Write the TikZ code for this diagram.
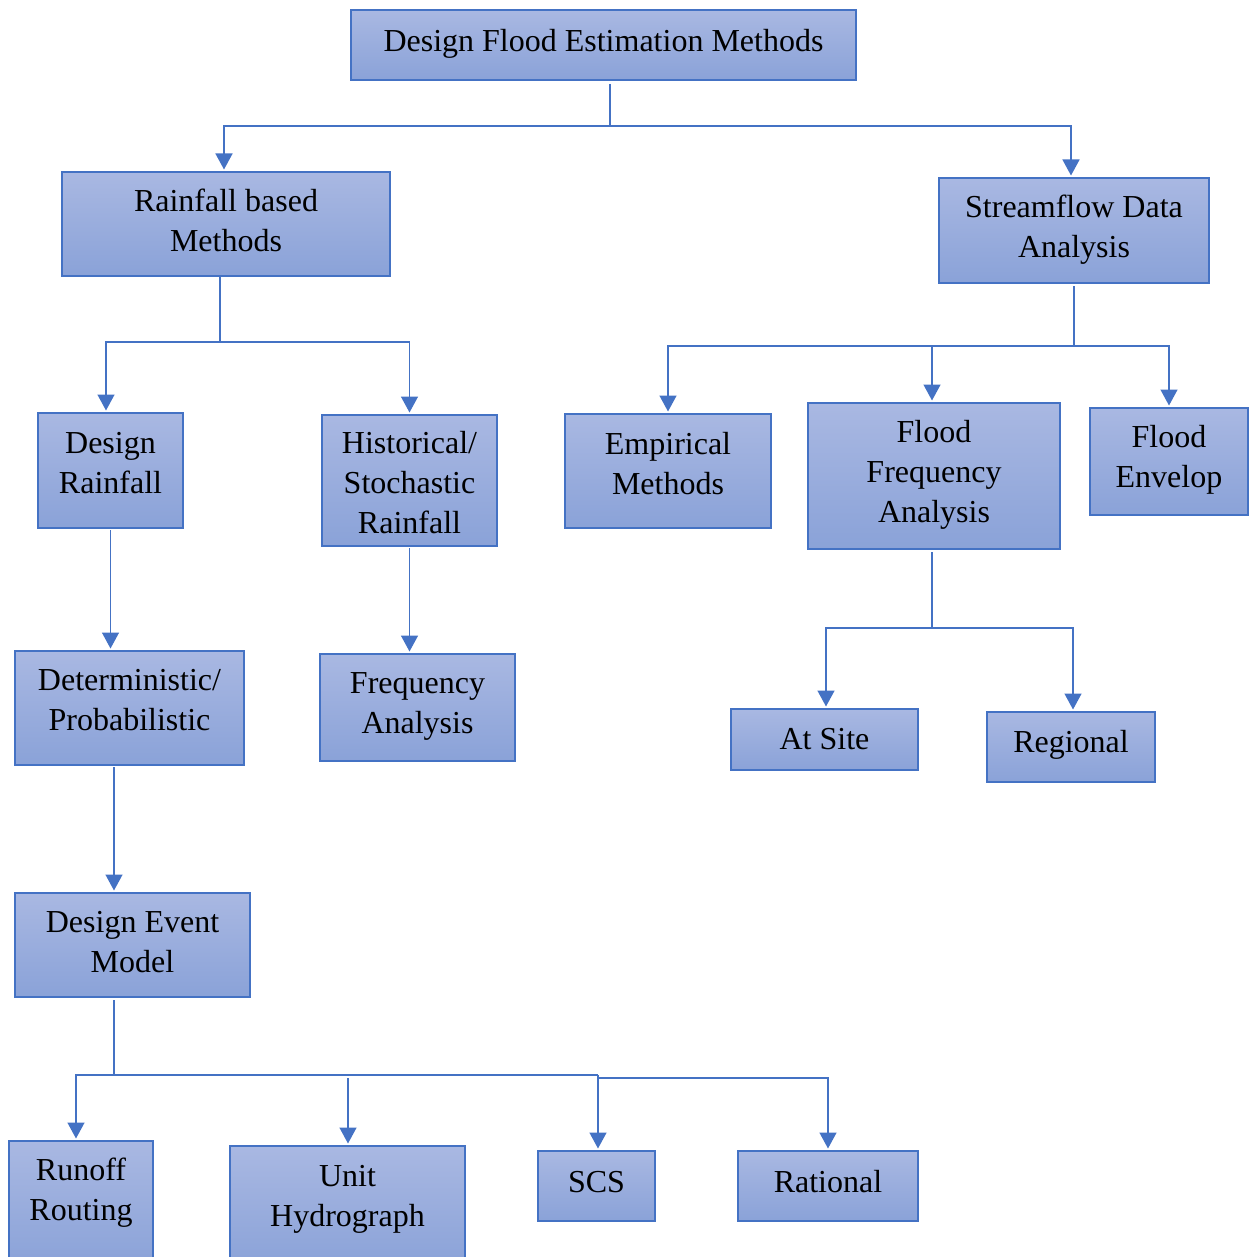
\documentclass[tikz,border=0pt]{standalone}
\usepackage{fontspec}
\setmainfont{Liberation Serif}
\usetikzlibrary{arrows.meta}
\definecolor{bordc}{HTML}{4472C4}
\definecolor{topc}{HTML}{A9B8E2}
\definecolor{botc}{HTML}{8AA2D8}
\tikzset{
  fbox/.style={draw=bordc, line width=1.3pt, top color=topc, bottom color=botc, inner sep=0pt, outer sep=0pt},
  ftext/.style={align=center, inner sep=0pt, font=\fontsize{32}{40}\selectfont},
  conn/.style={draw=bordc, line width=1.5pt},
  arr/.style={conn, -{Triangle[width=17pt,length=16pt]}, shorten >=2.5pt},
}
\newcommand\fcbox[7]{%
  \node[fbox, minimum width={(#4-#2)*1pt}, minimum height={(#5-#3)*1pt}] (#1) at ({(#2+#4)/2},{-(#3+#5)/2}) {};
  \node[ftext] (#1-t) at ({(#2+#4)/2},{-#6-2.5}) {#7};}
\begin{document}
\begin{tikzpicture}[x=1pt,y=1pt]
\useasboundingbox (0,0) rectangle (1250,-1257);
\clip (0,0) rectangle (1250,-1257);
\fcbox{top}{351}{10}{856}{80}{41}{\strut Design Flood Estimation Methods}
\fcbox{rain}{62}{172}{390}{276}{221}{\strut Rainfall based\\\strut Methods}
\fcbox{stream}{939}{178}{1209}{283}{227.5}{\strut Streamflow Data\\\strut Analysis}
\fcbox{drain}{38}{413}{183}{528}{463}{\strut Design\\\strut Rainfall}
\fcbox{hist}{322}{415}{497}{546}{483}{\strut Historical/\\\strut Stochastic\\\strut Rainfall}
\fcbox{emp}{565}{414}{771}{528}{463.5}{\strut Empirical\\\strut Methods}
\fcbox{ffa}{808}{403}{1060}{549}{472}{\strut Flood\\\strut Frequency\\\strut Analysis}
\fcbox{env}{1090}{408}{1248}{515}{457}{\strut Flood\\\strut Envelop}
\fcbox{det}{15}{651}{244}{765}{700}{\strut Deterministic/\\\strut Probabilistic}
\fcbox{freq}{320}{654}{515}{761}{703}{\strut Frequency\\\strut Analysis}
\fcbox{site}{731}{709}{918}{770}{739}{\strut At Site}
\fcbox{reg}{987}{712}{1155}{782}{742}{\strut Regional}
\fcbox{dem}{15}{893}{250}{997}{942}{\strut Design Event\\\strut Model}
\fcbox{runoff}{9}{1141}{153}{1268}{1190}{\strut Runoff\\\strut Routing}
\fcbox{unit}{230}{1146}{465}{1268}{1196}{\strut Unit\\\strut Hydrograph}
\fcbox{scs}{538}{1151}{655}{1221}{1182}{\strut SCS}
\fcbox{rat}{738}{1151}{918}{1221}{1182}{\strut Rational}
% top level
\coordinate (jt) at (610,-126);
\draw[conn] ([yshift=-4pt]top.south -| jt) -- (jt);
\draw[arr] (jt) -| ([xshift=-2pt]rain.north);
\draw[arr] (jt) -| ([xshift=-3pt]stream.north);
% rainfall based
\coordinate (jr) at (220,-342);
\draw[conn] (rain.south -| jr) -- (jr);
\draw[arr] (jr) -| ([xshift=-4.5pt]drain.north);
\draw[arr] (jr) -| (hist.north);
% streamflow
\coordinate (js) at (1074,-346);
\draw[conn] ([yshift=-3pt]stream.south -| js) -- (js);
\draw[arr] (js) -| (emp.north);
\draw[arr] (js) -| ([xshift=-2pt]ffa.north);
\draw[arr] (js) -| (env.north);
% chains
\draw[arr] ([yshift=-2pt]drain.south) -- (drain.south |- det.north);
\draw[arr] ([yshift=-2pt]hist.south) -- (hist.south |- freq.north);
\coordinate (jdet) at (114,-767);
\draw[arr] (jdet) -- (jdet |- dem.north);
% FFA
\coordinate (jf) at (932,-628);
\draw[conn] ([yshift=-3pt]ffa.south -| jf) -- (jf);
\draw[arr] (jf) -| ([xshift=1.5pt]site.north);
\draw[arr] (jf) -| ([xshift=2pt]reg.north);
% design event model
\coordinate (jd) at (114,-1075);
\coordinate (jd2) at (598,-1075);
\coordinate (jd3) at (598,-1078);
\coordinate (ju) at (348,-1078);
\draw[conn] ([yshift=-3pt]dem.south -| jd) -- (jd);
\draw[arr] (jd) -| ([xshift=-5pt]runoff.north);
\draw[conn] (jd) -- (jd2);
\draw[arr] (jd2) -- (jd2 |- scs.north);
\draw[arr] (jd3) -| (rat.north);
\draw[arr] (ju) -- (ju |- unit.north);
\end{tikzpicture}
\end{document}
